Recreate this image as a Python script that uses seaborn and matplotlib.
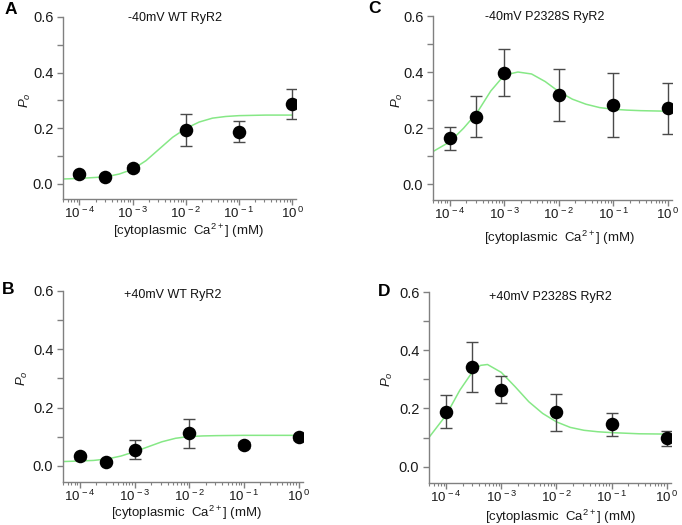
import matplotlib
matplotlib.use("Agg")
import matplotlib.pyplot as plt
import matplotlib.ticker as mticker
import seaborn as sns
import pandas as pd
import numpy as np

# measured points (log10 of cytoplasmic Ca2+, mM)
conc_log = [-4.0, -3.523, -3.0, -2.0, -1.0, 0.0]

po_A = [0.034, 0.025, 0.056, 0.194, 0.187, 0.286]
sem_A = [0.008, 0.006, 0.010, 0.057, 0.037, 0.054]
po_B = [0.033, 0.015, 0.056, 0.112, 0.073, 0.098]
sem_B = [0.008, 0.006, 0.032, 0.050, 0.010, 0.008]
po_C = [0.164, 0.242, 0.398, 0.320, 0.283, 0.271]
sem_C = [0.042, 0.074, 0.084, 0.093, 0.113, 0.090]
po_D = [0.189, 0.342, 0.265, 0.187, 0.145, 0.098]
sem_D = [0.057, 0.087, 0.046, 0.064, 0.041, 0.026]

# fitted curves
fit_A_x = [-4.31, -4.0, -3.75, -3.5, -3.25, -3.0, -2.75, -2.5, -2.25, -2.0, -1.75, -1.5, -1.25, -1.0, -0.5, 0.0]
fit_A_y = [0.017, 0.019, 0.022, 0.025, 0.035, 0.052, 0.083, 0.125, 0.167, 0.199, 0.222, 0.236, 0.242, 0.245, 0.247, 0.247]
fit_B_x = [-4.33, -4.0, -3.75, -3.5, -3.25, -3.0, -2.75, -2.5, -2.25, -2.0, -1.75, -1.5, -1.0, -0.5, 0.0]
fit_B_y = [0.015, 0.017, 0.019, 0.024, 0.034, 0.049, 0.066, 0.083, 0.095, 0.101, 0.103, 0.104, 0.105, 0.105, 0.105]
fit_C_x = [-4.31, -4.0, -3.75, -3.5, -3.25, -3.0, -2.75, -2.5, -2.25, -2.0, -1.75, -1.5, -1.25, -1.0, -0.75, -0.5, -0.25, 0.0]
fit_C_y = [0.117, 0.152, 0.200, 0.256, 0.333, 0.390, 0.401, 0.394, 0.367, 0.331, 0.304, 0.286, 0.274, 0.268, 0.265, 0.263, 0.262, 0.261]
fit_D_x = [-4.30, -4.0, -3.75, -3.5, -3.375, -3.25, -3.0, -2.75, -2.5, -2.25, -2.0, -1.75, -1.5, -1.25, -1.0, -0.5, 0.0]
fit_D_y = [0.103, 0.177, 0.263, 0.332, 0.348, 0.351, 0.324, 0.275, 0.223, 0.183, 0.154, 0.135, 0.125, 0.120, 0.117, 0.113, 0.112]

titles = ["-40mV WT RyR2", "+40mV WT RyR2", "-40mV P2328S RyR2", "+40mV P2328S RyR2"]
letters = ["A", "B", "C", "D"]
xlabel_text = "[cytoplasmic  Ca$^{2+}$] (mM)"

sns.set_style("ticks")
plt.rcParams["font.family"] = ["Liberation Sans", "DejaVu Sans"]
plt.rcParams["mathtext.fontset"] = "custom"
plt.rcParams["mathtext.rm"] = "Liberation Sans"
plt.rcParams["mathtext.it"] = "Liberation Sans:italic"
plt.rcParams["mathtext.bf"] = "Liberation Sans:bold"

W, H = 682, 525
fig = plt.figure(figsize=(W / 100, H / 100), dpi=100)

# axes boxes in pixels: left, top, right, bottom
boxes = {
    "A": (63, 17, 296, 199),
    "B": (63, 291, 302.5, 482),
    "C": (433, 16.3, 671.5, 199.7),
    "D": (429, 292, 670.6, 482.7),
}
letter_pos = {"A": (11, 9), "B": (8.5, 290), "C": (375, 8.5), "D": (384, 291.5)}
title_pos = {"A": (175, 18), "B": (173, 295), "C": (545, 17), "D": (550, 297)}
xlab_pos = {"A": (188, 231), "B": (186, 513), "C": (559, 238), "D": (560, 517)}
ylab_x = {"A": 25, "B": 22, "C": 397, "D": 387}

panels = {
    "A": (po_A, sem_A, fit_A_x, fit_A_y),
    "B": (po_B, sem_B, fit_B_x, fit_B_y),
    "C": (po_C, sem_C, fit_C_x, fit_C_y),
    "D": (po_D, sem_D, fit_D_x, fit_D_y),
}


def decade_label(v, pos):
    e = int(round(np.log10(v)))
    return r"$\mathregular{10^{\,%d}}$" % e


spine_col = "#808080"
txt_col = "#1a1a1a"
for letter, title in zip(letters, titles):
    po, sem, fx, fy = panels[letter]
    l, t, r, b = boxes[letter]
    ax = fig.add_axes([l / W, 1 - b / H, (r - l) / W, (b - t) / H])

    conc = [10 ** v for v in conc_log]
    fit_df = pd.DataFrame({"x": [10 ** v for v in fx], "y": fy})
    sns.lineplot(data=fit_df, x="x", y="y", ax=ax, color="#86e886", lw=1.1, zorder=2)
    ax.errorbar(conc, po, yerr=sem, fmt="none", ecolor="#4a4a4a", elinewidth=1,
                capsize=4, capthick=1, zorder=3)
    pts = pd.DataFrame({"x": conc, "y": po})
    sns.scatterplot(data=pts, x="x", y="y", ax=ax, color="black", s=95,
                    edgecolor="black", linewidth=0, zorder=4)

    ax.set_xscale("log")
    ax.set_xlim(10 ** -4.31, 10 ** 0.07)
    ax.set_ylim(-0.055, 0.6)
    ax.set_yticks([0.0, 0.2, 0.4, 0.6])
    ax.set_yticklabels(["0.0", "0.2", "0.4", "0.6"])
    ax.yaxis.set_minor_locator(mticker.MultipleLocator(0.1))
    ax.xaxis.set_major_locator(mticker.LogLocator(base=10, numticks=10))
    ax.xaxis.set_major_formatter(mticker.FuncFormatter(decade_label))
    ax.xaxis.set_minor_locator(mticker.LogLocator(base=10, subs=np.arange(2, 10), numticks=10))
    ax.xaxis.set_minor_formatter(mticker.NullFormatter())

    sns.despine(ax=ax)
    for s in ["left", "bottom"]:
        ax.spines[s].set_color(spine_col)
        ax.spines[s].set_linewidth(1)
    ax.tick_params(axis="y", which="major", direction="out", length=4, width=1,
                   color=spine_col, labelsize=10.5, labelcolor=txt_col, pad=3)
    ax.tick_params(axis="x", which="major", direction="out", length=4, width=1,
                   color=spine_col, labelsize=9.5, labelcolor=txt_col, pad=1)
    ax.tick_params(axis="x", which="minor", direction="out", length=2.5, width=0.8, color=spine_col)
    ax.tick_params(axis="y", which="minor", direction="out", length=4, width=1, color=spine_col)

    ax.set_xlabel("")
    ax.set_ylabel("")
    xx, xy = xlab_pos[letter]
    fig.text(xx / W, 1 - xy / H, xlabel_text, ha="center", va="center",
             fontsize=9.5, color=txt_col)
    fig.text(ylab_x[letter] / W, 1 - (t + (b - t) * (0.6 - 0.3) / 0.655) / H, r"$P_{o}$",
             rotation=90, ha="center", va="center", fontsize=9.5, color=txt_col)

    tx, ty = title_pos[letter]
    fig.text(tx / W, 1 - ty / H, title, ha="center", va="center", fontsize=9, color="#111111")
    lx, ly = letter_pos[letter]
    fig.text(lx / W, 1 - ly / H, letter, ha="center", va="center", fontsize=12.5,
             fontweight="bold", color="black")

fig.savefig("out.png", dpi=100)
